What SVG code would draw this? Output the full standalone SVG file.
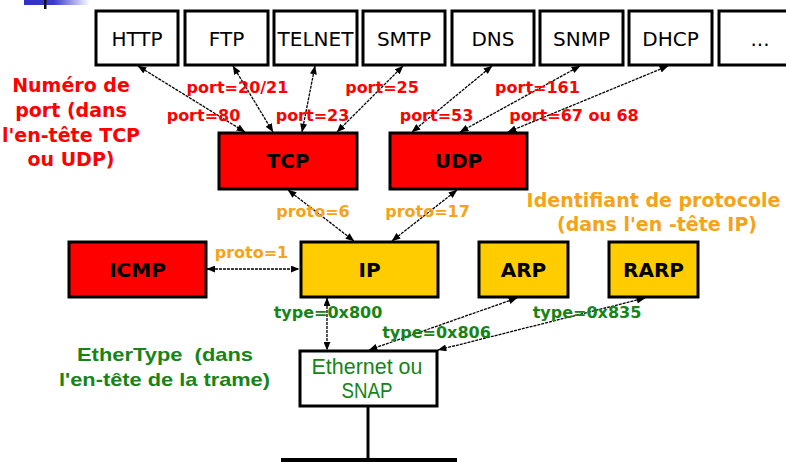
<svg xmlns="http://www.w3.org/2000/svg" width="786" height="464" viewBox="0 0 786 464">
<defs>
<linearGradient id="lg" x1="0" y1="0" x2="1" y2="0">
<stop offset="0" stop-color="#3030c8"/><stop offset="0.45" stop-color="#3a3ad0"/><stop offset="1" stop-color="#ffffff"/>
</linearGradient>
<marker id="ah" viewBox="0 0 10 8" refX="9.5" refY="4" markerWidth="9" markerHeight="7" markerUnits="userSpaceOnUse" orient="auto-start-reverse">
<path d="M0,0 L10,4 L0,8 Z" fill="#000"/>
</marker>
<style>
.box{stroke:#000;stroke-width:3}
.app{fill:#fff}
.red{fill:#ff0000}
.yel{fill:#ffcc00}
.t{font-family:"DejaVu Sans",Verdana,sans-serif;font-size:20px;fill:#000;text-anchor:middle}
.b{font-family:"DejaVu Sans",Verdana,sans-serif;font-size:20px;font-weight:bold;fill:#000;text-anchor:middle}
.rl{font-family:"DejaVu Sans",Verdana,sans-serif;font-size:16px;font-weight:bold;fill:#ff0000;text-anchor:middle}
.rb{font-family:"DejaVu Sans",Verdana,sans-serif;font-size:19px;font-weight:bold;fill:#ff0000;text-anchor:middle}
.ol{font-family:"DejaVu Sans",Verdana,sans-serif;font-size:16px;font-weight:bold;fill:#f5a318;text-anchor:middle}
.ob{font-family:"DejaVu Sans",Verdana,sans-serif;font-size:19px;font-weight:bold;fill:#f5a318;text-anchor:middle}
.gl{font-family:"DejaVu Sans",Verdana,sans-serif;font-size:16px;font-weight:bold;fill:#168416;text-anchor:middle}
.gb{font-family:"Liberation Sans",Arial,sans-serif;font-size:19px;font-weight:bold;fill:#168416;text-anchor:middle}
.gt{font-family:"Liberation Sans",Arial,sans-serif;font-size:22px;fill:#168416;text-anchor:middle}
.c line{stroke:#000;stroke-width:1.3;stroke-dasharray:3 1;marker-start:url(#ah);marker-end:url(#ah)}
</style>
</defs>
<rect width="786" height="464" fill="#fff"/>
<rect x="24" y="0" width="66" height="5" fill="url(#lg)"/>
<rect x="44" y="0" width="2.5" height="9" fill="#111"/>

<g id="HTTP"><rect class="box app" x="96" y="11" width="82" height="54"/><text class="t" x="137" y="46">HTTP</text></g>
<g id="FTP"><rect class="box app" x="185" y="11" width="83" height="54"/><text class="t" x="226.5" y="46">FTP</text></g>
<g id="TELNET"><rect class="box app" x="274" y="11" width="83" height="54"/><text class="t" x="315.5" y="46">TELNET</text></g>
<g id="SMTP"><rect class="box app" x="363" y="11" width="82" height="54"/><text class="t" x="404" y="46">SMTP</text></g>
<g id="DNS"><rect class="box app" x="452" y="11" width="82" height="54"/><text class="t" x="493" y="46">DNS</text></g>
<g id="SNMP"><rect class="box app" x="540" y="11" width="83" height="54"/><text class="t" x="581.5" y="46">SNMP</text></g>
<g id="DHCP"><rect class="box app" x="629" y="11" width="83" height="54"/><text class="t" x="670.5" y="46">DHCP</text></g>
<g id="more"><rect class="box app" x="719" y="11" width="90" height="54"/><text class="t" x="760" y="46">...</text></g>

<g id="TCP"><rect class="box red" x="219" y="133" width="138" height="56"/><text class="b" x="288" y="168">TCP</text></g>
<g id="UDP"><rect class="box red" x="390" y="133" width="137" height="56"/><text class="b" x="458.5" y="168">UDP</text></g>
<g id="ICMP"><rect class="box red" x="69" y="242" width="137" height="55"/><text class="b" x="137.5" y="277">ICMP</text></g>
<g id="IP"><rect class="box yel" x="301" y="242" width="137" height="55"/><text class="b" x="369.5" y="277">IP</text></g>
<g id="ARP"><rect class="box yel" x="479" y="242" width="89" height="55"/><text class="b" x="523.5" y="277">ARP</text></g>
<g id="RARP"><rect class="box yel" x="609" y="242" width="89" height="55"/><text class="b" x="653.5" y="277">RARP</text></g>
<g id="Ethernet"><rect class="box app" x="300" y="351" width="137" height="55"/>
<text class="gt" x="367" y="374" textLength="111" lengthAdjust="spacingAndGlyphs">Ethernet ou</text>
<text class="gt" x="367" y="398" textLength="51" lengthAdjust="spacingAndGlyphs">SNAP</text></g>
<g id="wire"><line x1="368" y1="406" x2="368" y2="460" stroke="#000" stroke-width="3"/><line x1="281" y1="460" x2="457" y2="460" stroke="#000" stroke-width="4"/></g>

<g id="connectors" class="c">
<line x1="138" y1="66" x2="245" y2="132"/>
<line x1="233" y1="66" x2="273" y2="132"/>
<line x1="315" y1="66" x2="302" y2="132"/>
<line x1="403" y1="66" x2="337" y2="132"/>
<line x1="492" y1="66" x2="412" y2="132"/>
<line x1="580" y1="66" x2="460" y2="132"/>
<line x1="668" y1="66" x2="508" y2="132"/>
<line x1="288" y1="190" x2="354" y2="241"/>
<line x1="457" y1="190" x2="392" y2="241"/>
<line x1="207" y1="269" x2="299" y2="269"/>
<line x1="327" y1="298" x2="327" y2="350"/>
<line x1="517" y1="298" x2="369" y2="350"/>
<line x1="645" y1="298" x2="438" y2="350"/>
</g>

<g id="labels">
<text class="rb" x="71" y="92">Numéro de</text>
<text class="rb" x="71" y="117">port (dans</text>
<text class="rb" x="71" y="142">l'en-tête TCP</text>
<text class="rb" x="71" y="166">ou UDP)</text>
<text class="rl" x="237.5" y="93">port=20/21</text>
<text class="rl" x="203.5" y="121">port=80</text>
<text class="rl" x="312.5" y="121">port=23</text>
<text class="rl" x="382" y="93">port=25</text>
<text class="rl" x="537.5" y="93">port=161</text>
<text class="rl" x="436.5" y="121">port=53</text>
<text class="rl" x="574" y="121">port=67 ou 68</text>
<text class="ol" x="313" y="217">proto=6</text>
<text class="ol" x="427.5" y="217">proto=17</text>
<text class="ol" x="251.5" y="258">proto=1</text>
<text class="ob" x="653.5" y="207">Identifiant de protocole</text>
<text class="ob" x="657" y="231">(dans l'en -tête IP)</text>
<text class="gl" x="328" y="318">type=0x800</text>
<text class="gl" x="436.5" y="338">type=0x806</text>
<text class="gl" x="587" y="318">type=0x835</text>
<text class="gb" x="165" y="361" textLength="176" lengthAdjust="spacingAndGlyphs" xml:space="preserve">EtherType  (dans</text>
<text class="gb" x="164.5" y="386" textLength="211" lengthAdjust="spacingAndGlyphs">l'en-tête de la trame)</text>
</g>
</svg>
